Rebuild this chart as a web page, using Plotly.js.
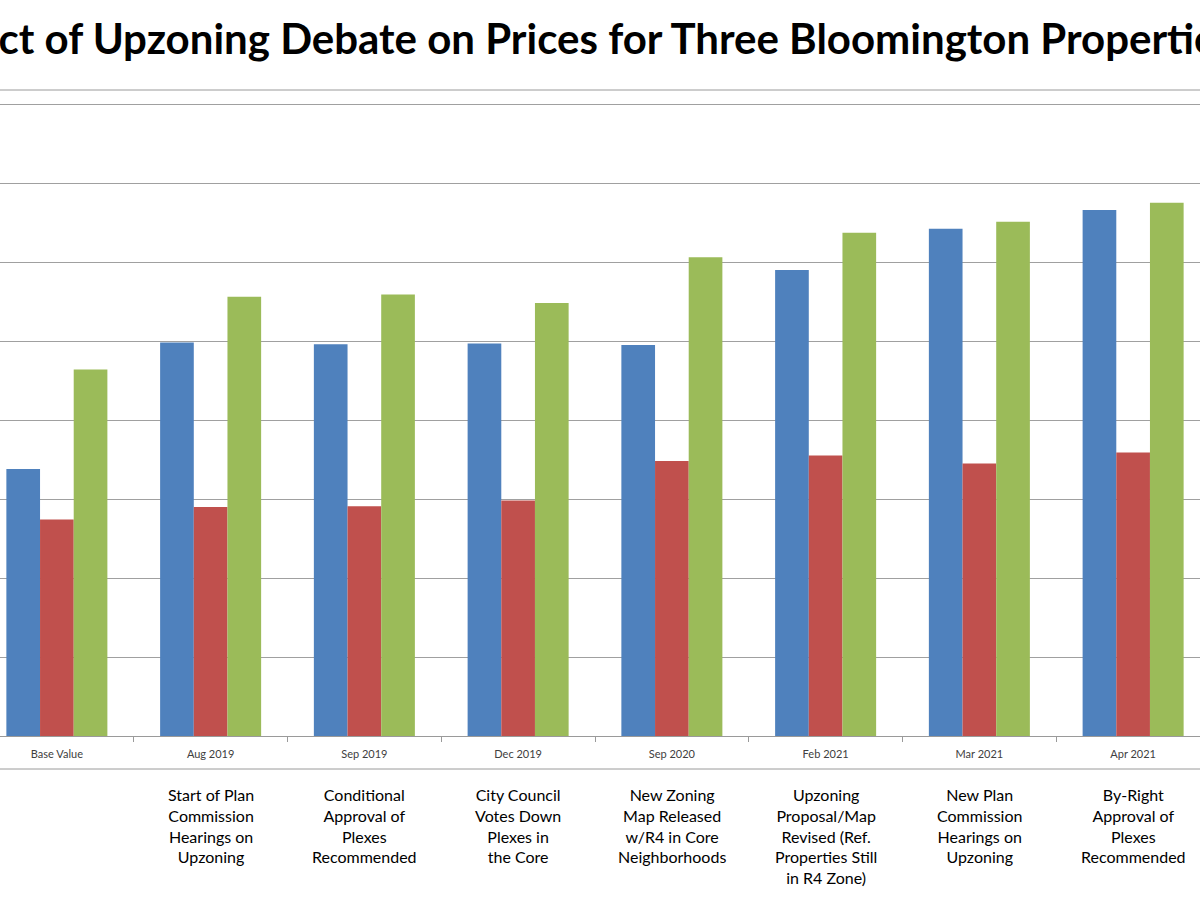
<!DOCTYPE html>
<html>
<head>
<meta charset="utf-8">
<script src="https://cdn.plot.ly/plotly-3.0.1.min.js"></script>
<style>
  html, body { margin: 0; padding: 0; background: #ffffff; overflow: hidden; width: 1200px; height: 900px; }
  #chart { position: absolute; left: -40px; top: 0; width: 1280px; height: 900px; }
</style>
</head>
<body>
<div id="chart"></div>
<script>
// Category labels (dates) and the event descriptions under them
const categories = ["Base Value", "Aug 2019", "Sep 2019", "Dec 2019", "Sep 2020", "Feb 2021", "Mar 2021", "Apr 2021"];
const eventNotes = [
  "",
  "Start of Plan<br>Commission<br>Hearings on<br>Upzoning",
  "Conditional<br>Approval of<br>Plexes<br>Recommended",
  "City Council<br>Votes Down<br>Plexes in<br>the Core",
  "New Zoning<br>Map Released<br>w/R4 in Core<br>Neighborhoods",
  "Upzoning<br>Proposal/Map<br>Revised (Ref.<br>Properties Still<br>in R4 Zone)",
  "New Plan<br>Commission<br>Hearings on<br>Upzoning",
  "By-Right<br>Approval of<br>Plexes<br>Recommended"
];
// Estimated property prices
const property1 = [169000, 249000, 248000, 248500, 247500, 295000, 321000, 333000];
const property2 = [137000, 145000, 145500, 149000, 174000, 177500, 172500, 179500];
const property3 = [232000, 278000, 279500, 274000, 303000, 318500, 325500, 337500];
const seriesNames = ["Property 1", "Property 2", "Property 3"];
const chartTitle = "Impact of Upzoning Debate on Prices for Three Bloomington Properties";

const colors = ["#4F81BD", "#C0504D", "#9BBB59"];
const series = [property1, property2, property3];

const traces = series.map((vals, i) => ({
  type: "bar",
  name: seriesNames[i],
  x: categories,
  y: vals,
  marker: { color: colors[i], line: { width: 0 } },
  hoverinfo: "x+y+name"
}));

const annotations = categories.map((c, i) => ({
  xref: "x", yref: "paper",
  x: c, y: -0.073,
  xanchor: "center", yanchor: "top",
  text: eventNotes[i],
  showarrow: false,
  align: "center",
  font: { family: "Lato, 'Open Sans', sans-serif", size: 16, color: "#000000" }
})).filter(a => a.text !== "");

annotations.push({
  xref: "paper", yref: "paper",
  x: 0.4797, y: 1.0805,
  xanchor: "center", yanchor: "middle",
  text: "<b>" + chartTitle + "</b>",
  showarrow: false,
  font: { family: "Lato, 'Open Sans', sans-serif", size: 42, color: "#000000" }
});

const layout = {
  width: 1280, height: 900,
  margin: { l: 20, r: 30, t: 90, b: 164 },
  paper_bgcolor: "#ffffff",
  plot_bgcolor: "#ffffff",
  showlegend: false,
  barmode: "group",
  bargap: 0.343,
  bargroupgap: 0,
  xaxis: {
    type: "category",
    showline: true, linecolor: "#9a9a9a", linewidth: 1,
    ticks: "outside", tickson: "boundaries", ticklen: 5, tickcolor: "#9a9a9a",
    ticklabelstandoff: 8,
    showgrid: false,
    tickfont: { family: "Lato, 'Open Sans', sans-serif", size: 11, color: "#404040" }
  },
  yaxis: {
    range: [0, 408900],
    dtick: 50000,
    showgrid: true, gridcolor: "#a0a0a0", gridwidth: 1,
    showticklabels: false,
    zeroline: false,
    showline: false,
    ticks: ""
  },
  annotations: annotations,
  shapes: [
    { type: "line", xref: "paper", yref: "paper", x0: -0.05, x1: 1.05, y0: 1, y1: 1,
      line: { color: "#9a9a9a", width: 1 } },
    { type: "line", xref: "paper", yref: "paper", x0: -0.05, x1: 1.05, y0: -0.0511, y1: -0.0511,
      line: { color: "#9a9a9a", width: 1 } }
  ]
};

Plotly.newPlot("chart", traces, layout, { staticPlot: true, displayModeBar: false });
</script>
</body>
</html>
